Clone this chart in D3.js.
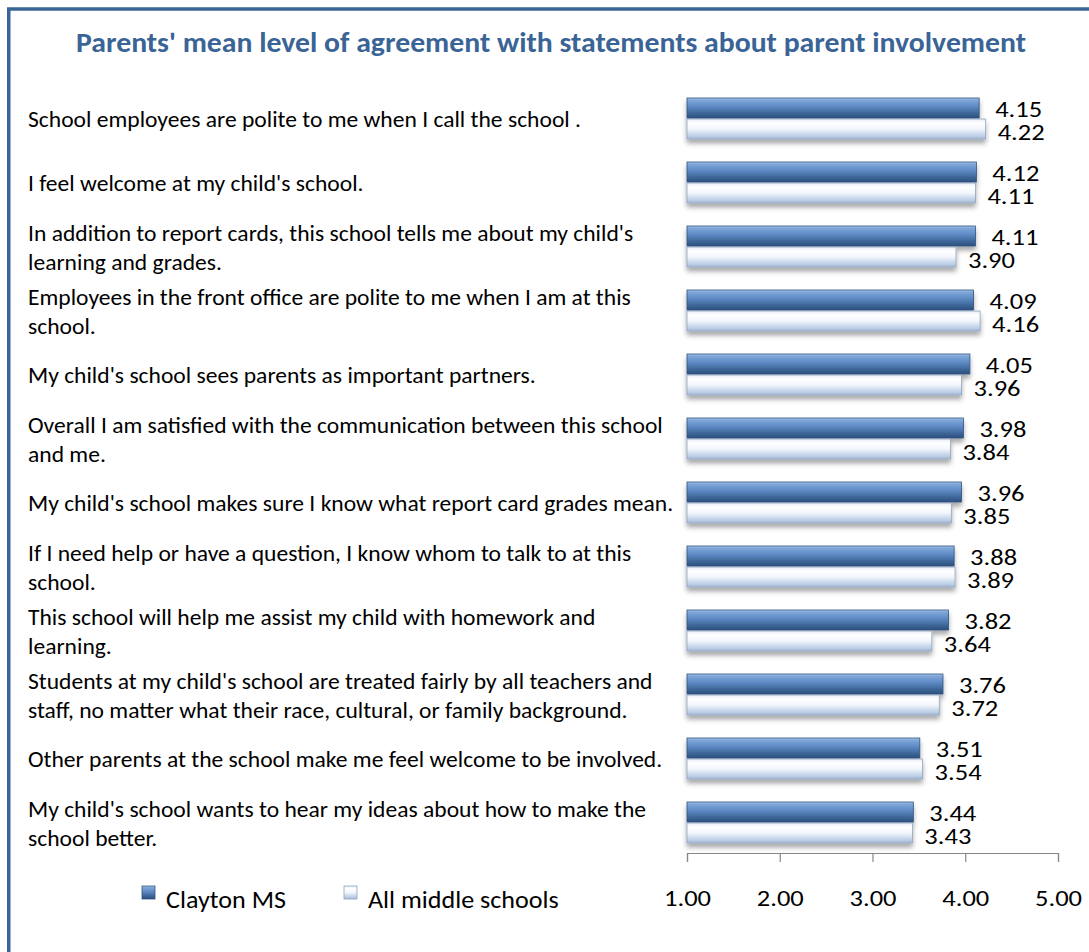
<!DOCTYPE html>
<html><head><meta charset="utf-8">
<script src="https://cdn.jsdelivr.net/npm/d3@7"></script>
<style>
html,body{margin:0;padding:0;background:#fff;}
svg{display:block;}
text{font-family:Carlito,Calibri,Lato,"Liberation Sans",sans-serif;}
</style></head>
<body><svg id="chart" width="1089" height="952"></svg>
<script>
const title = "Parents' mean level of agreement with statements about parent involvement";
const categories = [
  ["School employees are polite to me when I call the school ."],
  ["I feel welcome at my child's school."],
  ["In addition to report  cards, this school tells me about my child's","learning and grades."],
  ["Employees in the front office are polite to me when I am at this","school."],
  ["My child's school sees parents as important partners."],
  ["Overall I am satisfied with the communication  between this school","and me."],
  ["My child's school makes sure I know what report  card  grades mean."],
  ["If I need help or have a question,  I know  whom to talk to at this","school."],
  ["This school will help me assist my child with homework and","learning."],
  ["Students at my child's school  are treated fairly by all teachers and","staff, no matter what their race, cultural, or family background."],
  ["Other parents at the school  make me feel welcome to be involved."],
  [" My child's school wants to hear my ideas about how to make the"," school better."]
];
const seriesNames = ["Clayton MS", "All middle schools"];
const claytonValues = [4.15,4.12,4.11,4.09,4.05,3.98,3.96,3.88,3.82,3.76,3.51,3.44];
const allValues = [4.22,4.11,3.90,4.16,3.96,3.84,3.85,3.89,3.64,3.72,3.54,3.43];
const tickValues = [1,2,3,4,5];

const FONT = "Carlito,Calibri,Lato,'Liberation Sans',sans-serif";
const svg = d3.select("#chart");
const defs = svg.append("defs");

function grad(id, stops){
  const g = defs.append("linearGradient").attr("id", id).attr("x1",0).attr("y1",0).attr("x2",0).attr("y2",1);
  stops.forEach(s => g.append("stop").attr("offset", s[0]).attr("stop-color", s[1]));
}
grad("gDark", [[0,"#a9c4e6"],[0.12,"#7da5d8"],[0.45,"#5b87c2"],[0.75,"#3f679b"],[1,"#2d4f7c"]]);
grad("gLight", [[0,"#e4ecf6"],[0.2,"#ffffff"],[0.5,"#f2f6fb"],[0.8,"#c3d4e9"],[1,"#a7bbd5"]]);
const f = defs.append("filter").attr("id","shadow").attr("x","-5%").attr("y","-20%").attr("width","110%").attr("height","160%");
f.append("feDropShadow").attr("dx",0).attr("dy",4).attr("stdDeviation",2.5).attr("flood-color","#000").attr("flood-opacity",0.35);

function squeezeFactor(parent, size, weight, sample, target){
  const p = parent.append("text").attr("font-size",size).attr("font-weight",weight).text(sample);
  const w = p.node().getComputedTextLength(); p.remove();
  return target / w;
}
function fit(t, k){
  const w = t.node().getComputedTextLength();
  t.attr("textLength", w*k).attr("lengthAdjust","spacingAndGlyphs");
}

// border
svg.append("rect").attr("x",8.75).attr("y",9).attr("width",1200).attr("height",1000)
  .attr("fill","none").attr("stroke","#3b6497").attr("stroke-width",3.5);

// title
svg.append("text").attr("x",551).attr("y",52).attr("text-anchor","middle")
  .attr("font-size",28).attr("font-weight",800).attr("fill","#3a6496")
  .attr("textLength",950).attr("lengthAdjust","spacingAndGlyphs").text(title);

const x = d3.scaleLinear().domain([1,5]).range([687,1058]);
const y = d3.scaleBand().domain(d3.range(categories.length)).range([86,854]);

// category labels
const LS = 22.5;
const lab = svg.append("g").attr("font-size",LS).attr("fill","#000");
const lineH = 29;
const kLab = squeezeFactor(lab, LS, "normal", categories[0][0], 553);
categories.forEach((lines,i)=>{
  const cy = y(i) + y.bandwidth()/2;
  const n = lines.length;
  lines.forEach((ln,j)=>{
    const t = lab.append("text").attr("x",28).attr("y", cy + (j-(n-1)/2)*lineH + 9).text(ln);
    fit(t, kLab);
  });
});

// bars
const bars = svg.append("g");
categories.forEach((c,i)=>{
  const cy = y(i) + y.bandwidth()/2;
  const g = bars.append("g").attr("filter","url(#shadow)");
  g.append("rect").attr("x",x(1)).attr("y",cy-20).attr("width",x(claytonValues[i])-x(1)).attr("height",20)
    .attr("fill","url(#gDark)").attr("stroke","#2f5480").attr("stroke-width",0.8);
  g.append("rect").attr("x",x(1)).attr("y",cy+1).attr("width",x(allValues[i])-x(1)).attr("height",20)
    .attr("fill","url(#gLight)").attr("stroke","#8fa3bd").attr("stroke-width",0.8);
});
// value labels
const VS = 23;
const vl = svg.append("g").attr("font-size",VS).attr("fill","#000");
const kVal = squeezeFactor(vl, VS, "normal", "4.15", 47);
categories.forEach((c,i)=>{
  const cy = y(i) + y.bandwidth()/2;
  fit(vl.append("text").attr("x",x(claytonValues[i])+16).attr("y",cy-1).text(claytonValues[i].toFixed(2)), kVal);
  fit(vl.append("text").attr("x",x(allValues[i])+12).attr("y",cy+22).text(allValues[i].toFixed(2)), kVal);
});

// axis
const ax = svg.append("g").attr("transform","translate(0,853)")
  .call(d3.axisBottom(x).tickValues(tickValues).tickSize(9).tickPadding(28).tickFormat(d3.format(".2f")));
ax.select(".domain").attr("stroke","#868686").attr("stroke-width",1.2);
ax.selectAll(".tick line").attr("stroke","#868686").attr("stroke-width",1.2);
ax.selectAll(".tick text").attr("font-size",VS).attr("fill","#000").attr("font-family",FONT)
  .each(function(){ fit(d3.select(this), kVal); });

// legend
const leg = svg.append("g").attr("font-size",24).attr("fill","#000");
const kLeg = squeezeFactor(leg, 24, "normal", seriesNames[0], 120);
const legX = [142, 344];
const legFill = ["url(#gDark)","url(#gLight)"];
const legStroke = ["#2f5480","#8fa3bd"];
seriesNames.forEach((s,i)=>{
  leg.append("rect").attr("x",legX[i]).attr("y",886).attr("width",13).attr("height",13)
    .attr("fill",legFill[i]).attr("stroke",legStroke[i]).attr("stroke-width",0.8);
  fit(leg.append("text").attr("x",legX[i]+24).attr("y",908).text(s), kLeg);
});
</script></body></html>
